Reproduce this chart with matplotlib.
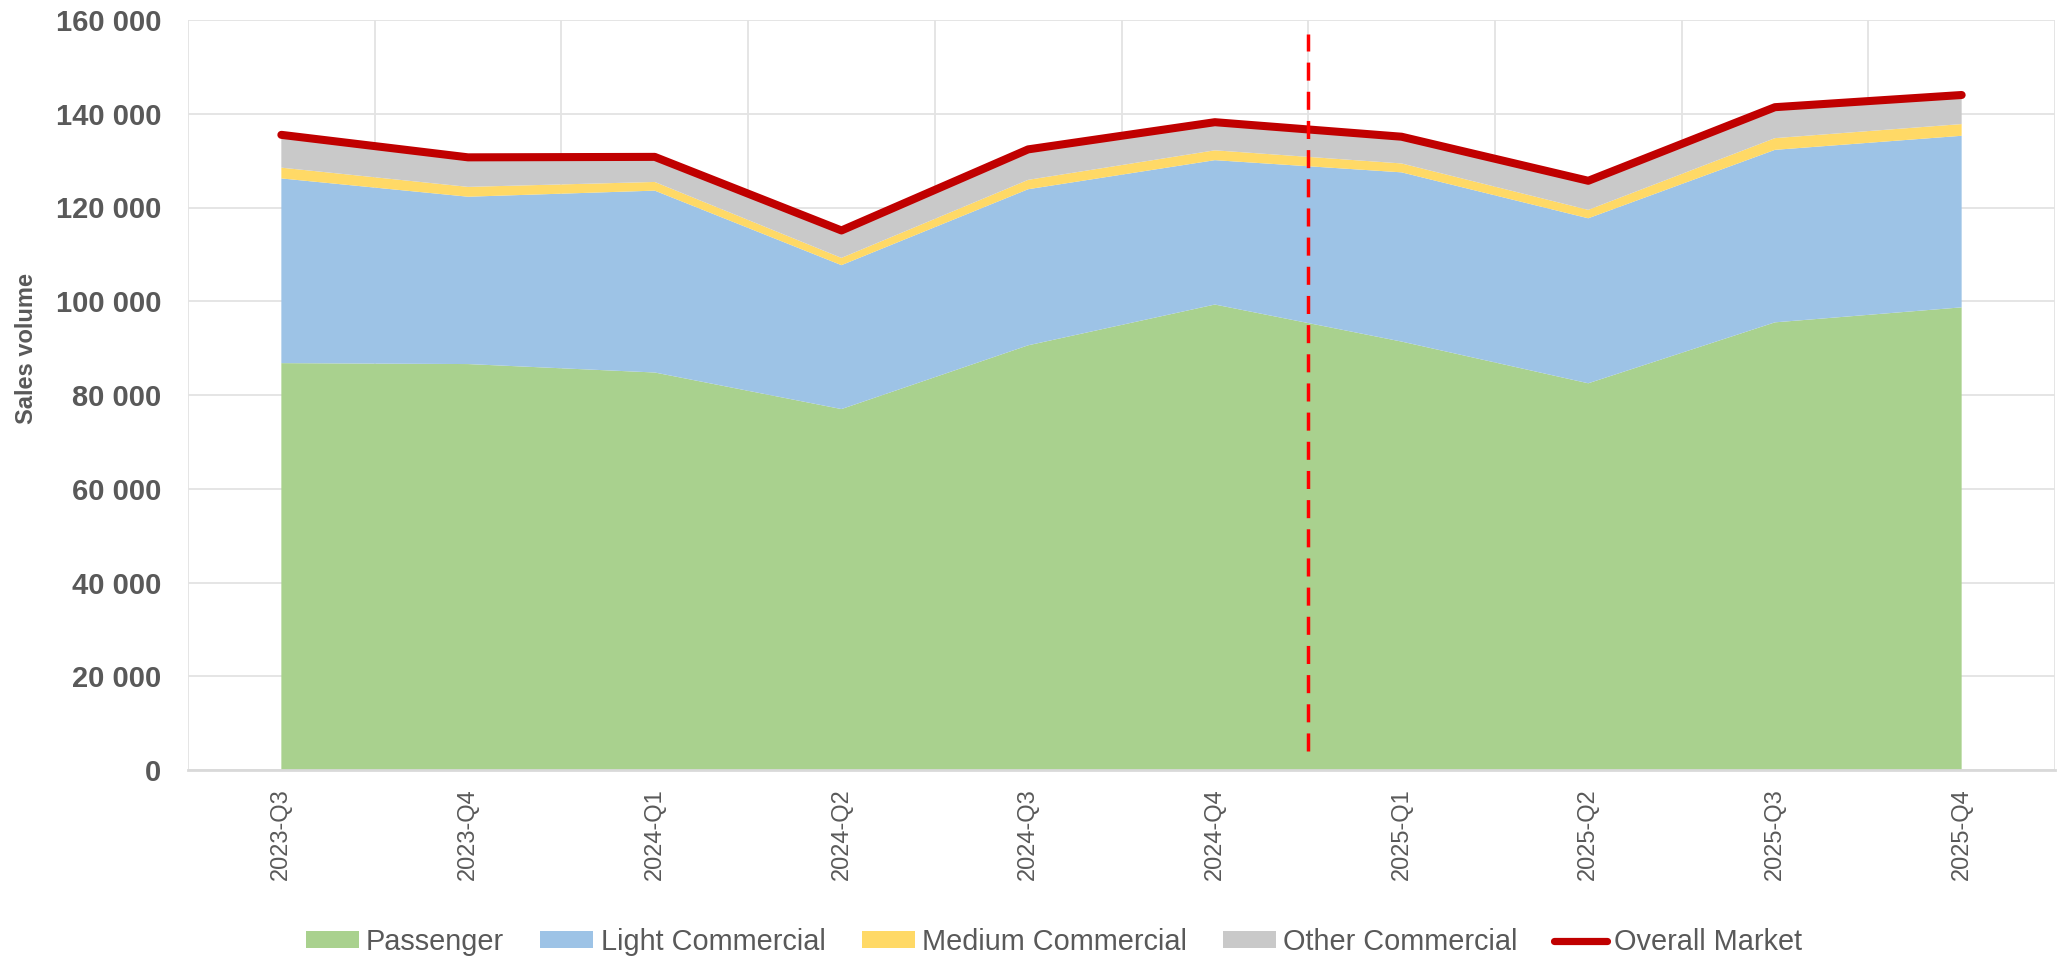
import matplotlib
matplotlib.use("Agg")
import matplotlib.pyplot as plt
from matplotlib.ticker import FuncFormatter, MultipleLocator
from matplotlib.patches import Patch
from matplotlib.lines import Line2D
import numpy as np

# ---- data ----
quarters = ["2023-Q3", "2023-Q4", "2024-Q1", "2024-Q2", "2024-Q3",
            "2024-Q4", "2025-Q1", "2025-Q2", "2025-Q3", "2025-Q4"]
passenger = [86800, 86600, 84800, 77000, 90600, 99300, 91400, 82500, 95500, 98700]
light_commercial = [39400, 35700, 38800, 30700, 33300, 30800, 36100, 35200, 36800, 36600]
medium_commercial = [2300, 2100, 1850, 1550, 2000, 2100, 1900, 1800, 2500, 2500]
other_commercial = [7000, 6300, 5400, 5800, 6500, 6000, 5700, 6200, 6600, 6200]
overall_market = [135500, 130700, 130800, 115100, 132400, 138200, 135100, 125700, 141400, 144000]
series_names = ["Passenger", "Light Commercial", "Medium Commercial", "Other Commercial", "Overall Market"]

# divider between 2024-Q4 and 2025-Q1
divider_x = 5.5
divider_range = (4000, 157000)

# ---- style ----
plt.rcParams['font.family'] = ['Liberation Sans', 'DejaVu Sans']
txt = '#595959'
c_green, c_blue, c_yellow, c_gray, c_red = '#A9D18E', '#9DC3E6', '#FFD966', '#C9C9C9', '#C00000'
grid_c = '#E3E3E3'

W, H = 2059, 957
fig = plt.figure(figsize=(W / 100, H / 100), dpi=100)
ax = fig.add_axes([188 / W, 1 - 770 / H, (2055 - 188) / W, (770 - 20) / H])

x = np.arange(len(quarters))
ax.stackplot(x, passenger, light_commercial, medium_commercial, other_commercial,
             colors=[c_green, c_blue, c_yellow, c_gray], linewidth=0, zorder=2)
ax.plot(x, overall_market, color=c_red, lw=5.8, solid_capstyle='round',
        solid_joinstyle='round', zorder=4)
ax.plot([divider_x, divider_x], divider_range, color='#FF0000', lw=2.5,
        dashes=(5.2, 3.2), zorder=5)

ax.set_xlim(-0.5, len(quarters) - 0.5)
ax.set_ylim(0, 160000)
ax.yaxis.set_major_locator(MultipleLocator(20000))
ax.yaxis.set_major_formatter(FuncFormatter(lambda v, p: f"{v:,.0f}".replace(",", " ")))
ax.set_xticks(x)
ax.set_xticklabels(quarters, rotation=90, fontsize=17, color=txt)
ax.set_xticks(np.arange(-0.5, len(quarters), 0.5), minor=True)
ax.tick_params(axis='x', which='both', length=0, pad=13)
ax.tick_params(axis='y', length=0, pad=19, labelsize=21, labelcolor=txt)
for lab in ax.get_yticklabels():
    lab.set_fontweight('bold')

ax.grid(True, which='major', axis='y', color=grid_c, lw=1.3, zorder=0)
ax.grid(True, which='minor', axis='x', color=grid_c, lw=1.3, zorder=0)
ax.set_axisbelow(True)
for s in ['top', 'right', 'left']:
    ax.spines[s].set_visible(False)
ax.spines['bottom'].set_color('#D9D9D9')
ax.spines['bottom'].set_linewidth(2)
ax.spines['bottom'].set_zorder(3)

fig.text(26.5 / W, 1 - 349 / H, "Sales volume", rotation=90, ha='center', va='center',
         fontsize=17, fontweight='bold', color=txt)

handles = [Patch(facecolor=c_green, edgecolor='none'),
           Patch(facecolor=c_blue, edgecolor='none'),
           Patch(facecolor=c_yellow, edgecolor='none'),
           Patch(facecolor=c_gray, edgecolor='none'),
           Line2D([0], [0], color=c_red, lw=5.2, solid_capstyle='round')]
leg = fig.legend(handles, series_names, loc='center', bbox_to_anchor=(1054 / W, 1 - 942 / H),
                 ncol=5, frameon=False, fontsize=20.8, handlelength=1.83, handleheight=0.53,
                 handletextpad=0.25, columnspacing=1.26, borderpad=0, borderaxespad=0)
for t in leg.get_texts():
    t.set_color(txt)

fig.savefig("out.png", dpi=100)
